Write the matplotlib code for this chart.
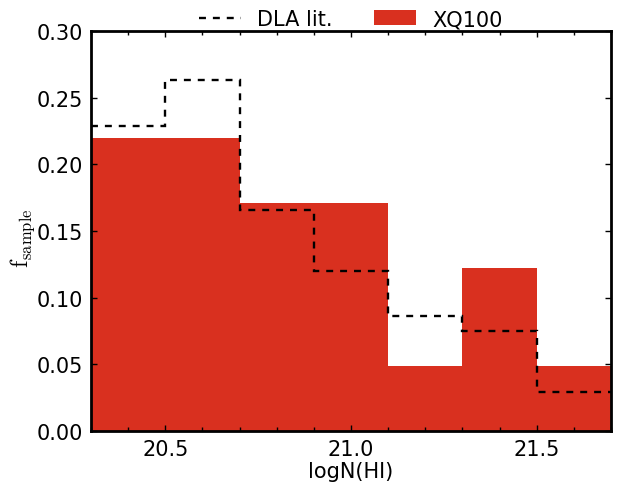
import numpy as np
import matplotlib.pyplot as plt
from matplotlib.ticker import MultipleLocator

# bin edges in logN(HI)
edges = [20.3, 20.5, 20.7, 20.9, 21.1, 21.3, 21.5, 21.7]
xq100 = [0.220, 0.220, 0.171, 0.171, 0.049, 0.122, 0.049]
dla_lit = [0.229, 0.263, 0.166, 0.120, 0.086, 0.075, 0.029]

plt.rcParams['mathtext.fontset'] = 'cm'
plt.rcParams['font.size'] = 15
plt.rcParams['lines.scale_dashes'] = False

fig = plt.figure(figsize=(6.19, 4.85), dpi=100)
ax = fig.add_axes([0.147, 0.109, 0.840, 0.825])

widths = np.diff(edges)
ax.bar(edges[:-1], xq100, width=widths, align='edge', color='#d9301f',
       edgecolor='none', linewidth=0, label='XQ100')
ax.stairs(dla_lit, edges, baseline=None, color='black',
          linestyle=(0, (5, 5)), linewidth=1.7, label='DLA lit.')

ax.set_xlim(20.3, 21.7)
ax.set_ylim(0, 0.30)
ax.xaxis.set_major_locator(MultipleLocator(0.5))
ax.xaxis.set_minor_locator(MultipleLocator(0.1))
ax.yaxis.set_major_locator(MultipleLocator(0.05))
ax.yaxis.set_major_formatter(plt.FormatStrFormatter('%.2f'))
ax.tick_params(which='both', direction='in', top=True, right=True, width=1)
ax.tick_params(which='major', length=4, pad=6)
ax.tick_params(which='minor', length=3)
for s in ax.spines.values():
    s.set_linewidth(2)

ax.set_xlabel('logN(HI)', labelpad=1)
ax.set_ylabel(r'$\mathrm{f_{sample}}$', fontsize=17)
ax.yaxis.set_label_coords(-0.104, 0.485)

ax.legend(loc='lower center', bbox_to_anchor=(0.5, 1.005), ncol=2,
          frameon=False, borderaxespad=0, handlelength=2.0,
          columnspacing=2.0, handletextpad=0.8, borderpad=0)

fig.savefig('out.png', dpi=100)
